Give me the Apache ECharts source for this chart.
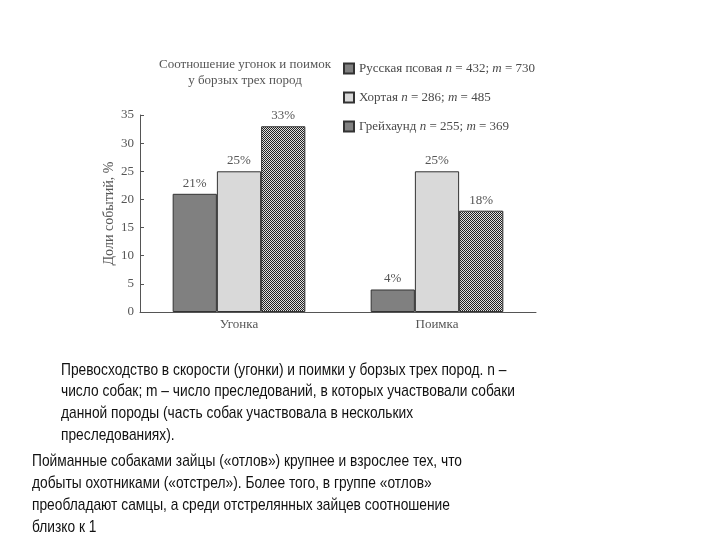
<!DOCTYPE html>
<html><head><meta charset="utf-8">
<script src="https://cdn.jsdelivr.net/npm/echarts@6/dist/echarts.min.js"></script>
<style>html,body{margin:0;padding:0;background:#fff}#c{width:720px;height:540px}</style>
</head><body><div id="c"></div>
<script>
const categories = ['Угонка', 'Поимка'];
const breeds = ['Русская псовая', 'Хортая', 'Грейхаунд'];
const nValues = [432, 286, 255];
const mValues = [730, 485, 369];
const russianValues = [21, 4];
const hortayaValues = [25, 25];
const greyhoundValues = [33, 18];
const yTicks = [0, 5, 10, 15, 20, 25, 30, 35];
const titleLines = ['Соотношение угонок и поимок', 'у борзых трех пород'];
const yAxisName = 'Доли событий, %';
const caption1 = ['Превосходство в скорости (угонки) и поимки у борзых трех пород. n –',
  'число собак; m – число преследований, в которых участвовали собаки',
  'данной породы (часть собак участвовала в нескольких',
  'преследованиях).'];
const caption2 = ['Пойманные собаками зайцы («отлов») крупнее и взрослее тех, что',
  'добыты охотниками («отстрел»). Более того, в группе «отлов»',
  'преобладают самцы, а среди отстрелянных зайцев соотношение',
  'близко к 1'];

const cv = document.createElement('canvas');
cv.width = 2; cv.height = 2;
const cx = cv.getContext('2d');
cx.fillStyle = '#e0e0e0'; cx.fillRect(0,0,2,2);
cx.fillStyle = '#222'; cx.fillRect(0,0,1,1); cx.fillRect(1,1,1,1);
const pattern = {image: cv, repeat: 'repeat'};

const serif = '"Liberation Serif", "DejaVu Serif", serif';
const colors = ['#808080', '#d9d9d9', pattern];
const seriesValues = [russianValues, hortayaValues, greyhoundValues];
const capFont = '17px "Liberation Sans", Arial, sans-serif';

const chart = echarts.init(document.getElementById('c'));
chart.setOption({
  backgroundColor: '#fff',
  animation: false,
  title: {
    text: titleLines.join('\n'),
    left: 240, top: 52, textAlign: 'center',
    textStyle: {fontFamily: serif, fontSize: 13, fontWeight: 'normal', color: '#555', lineHeight: 16}
  },
  legend: {
    orient: 'vertical', left: 338, top: 57, itemGap: 16,
    itemWidth: 10, itemHeight: 10, icon: 'rect',
    data: breeds,
    formatter: function (name) {
      const i = breeds.indexOf(name);
      return name + ' {i|n} = ' + nValues[i] + '; {i|m} = ' + mValues[i];
    },
    textStyle: {fontFamily: serif, fontSize: 13, color: '#4a4a4a', lineHeight: 13,
      rich: {i: {fontFamily: serif, fontStyle: 'italic', fontSize: 13, color: '#4a4a4a'}}}
  },
  grid: {left: 140, right: 184, top: 115, bottom: 228},
  xAxis: {
    type: 'category', data: categories,
    axisLine: {lineStyle: {color: '#555'}},
    axisTick: {inside: true, length: 5, lineStyle: {color: '#555'}},
    axisLabel: {fontFamily: serif, fontSize: 13, color: '#555', margin: 6}
  },
  yAxis: {
    type: 'value', min: yTicks[0], max: yTicks[yTicks.length-1], interval: yTicks[1]-yTicks[0],
    name: yAxisName, nameLocation: 'middle', nameGap: 24, nameMoveOverlap: false,
    nameTextStyle: {fontFamily: serif, fontSize: 14, color: '#555'},
    axisLine: {show: true, lineStyle: {color: '#555'}},
    axisTick: {show: true, inside: true, length: 4, lineStyle: {color: '#555'}},
    axisLabel: {fontFamily: serif, fontSize: 13, color: '#555', margin: 6},
    splitLine: {show: false}
  },
  series: breeds.map((b, k) => ({
    type: 'bar', name: b, data: seriesValues[k],
    barGap: '0%', barCategoryGap: '33%',
    itemStyle: {color: colors[k], borderColor: '#333', borderWidth: 1},
    label: {show: true, position: 'top', distance: 4, formatter: '{c}%',
      fontFamily: serif, fontSize: 13, color: '#555'}
  })),
  graphic: [
    {type: 'text', x: 61, y: 359, scaleX: 0.81, style: {text: caption1.join('\n'),
      font: capFont, fill: '#111', lineHeight: 21.7}},
    {type: 'text', x: 32, y: 450, scaleX: 0.81, style: {text: caption2.join('\n'),
      font: capFont, fill: '#111', lineHeight: 22}}
  ]
});
</script></body></html>
